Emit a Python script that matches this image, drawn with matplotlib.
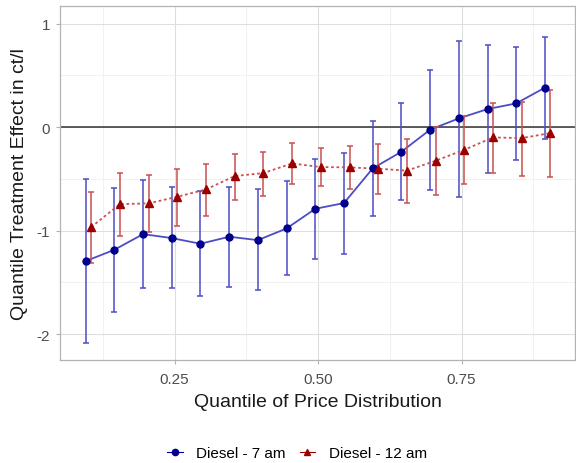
import matplotlib
matplotlib.use("Agg")
import matplotlib.pyplot as plt
from matplotlib.lines import Line2D
import numpy as np

plt.rcParams['font.family'] = ['Liberation Sans', 'DejaVu Sans']

quantiles = [0.10, 0.15, 0.20, 0.25, 0.30, 0.35, 0.40, 0.45, 0.50, 0.55,
             0.60, 0.65, 0.70, 0.75, 0.80, 0.85, 0.90]

d7_est = [-1.295, -1.185, -1.034, -1.072, -1.127, -1.059, -1.092, -0.979, -0.789, -0.734,
          -0.399, -0.238, -0.025, 0.084, 0.174, 0.229, 0.381]
d7_hi = [-0.499, -0.586, -0.508, -0.580, -0.618, -0.576, -0.602, -0.522, -0.306, -0.248,
         0.058, 0.232, 0.551, 0.831, 0.796, 0.773, 0.870]
d7_lo = [-2.083, -1.784, -1.556, -1.558, -1.636, -1.549, -1.578, -1.433, -1.272, -1.224,
         -0.856, -0.708, -0.609, -0.676, -0.447, -0.319, -0.116]

d12_est = [-0.966, -0.744, -0.737, -0.673, -0.602, -0.473, -0.444, -0.351, -0.386, -0.389,
           -0.402, -0.421, -0.325, -0.219, -0.100, -0.106, -0.058]
d12_hi = [-0.624, -0.444, -0.464, -0.406, -0.354, -0.261, -0.238, -0.157, -0.206, -0.183,
          -0.161, -0.112, -0.003, 0.110, 0.232, 0.239, 0.361]
d12_lo = [-1.310, -1.053, -1.017, -0.953, -0.863, -0.702, -0.663, -0.554, -0.573, -0.602,
          -0.643, -0.730, -0.652, -0.551, -0.447, -0.470, -0.483]

labels = ["Diesel - 7 am", "Diesel - 12 am"]

fig = plt.figure(figsize=(5.76, 4.64), dpi=100)
ax = fig.add_axes([60/576, 1-361/464, 515/576, 354/464])

dodge = 0.0048
q = np.array(quantiles)
x7 = q - dodge
x12 = q + dodge

blue_line = "#4c4cc8"
blue_pt = "#00008b"
red_line = "#cc5050"
red_pt = "#9b0000"

ax.axhline(0, color="#333333", lw=1.1, zorder=2)

e7 = np.array(d7_est)
ax.errorbar(x7, e7, yerr=[e7 - np.array(d7_lo), np.array(d7_hi) - e7], fmt='none',
            ecolor=blue_line, elinewidth=1.1, capsize=2.5, capthick=1.1, zorder=3)
ax.plot(x7, e7, color=blue_line, lw=1.3, zorder=3)
ax.plot(x7, e7, 'o', color=blue_pt, ms=5, zorder=4)

e12 = np.array(d12_est)
ax.errorbar(x12, e12, yerr=[e12 - np.array(d12_lo), np.array(d12_hi) - e12], fmt='none',
            ecolor=red_line, elinewidth=1.1, capsize=2.5, capthick=1.1, zorder=3)
ax.plot(x12, e12, color=red_line, lw=1.3, ls=(0, (1.5, 1.5)), zorder=3)
ax.plot(x12, e12, '^', color=red_pt, ms=5.5, zorder=4)

ax.set_xlim(0.0505, 0.9476)
ax.set_ylim(-2.25, 1.17)
ax.set_xticks([0.25, 0.50, 0.75])
ax.set_xticklabels(["0.25", "0.50", "0.75"])
ax.set_xticks([0.125, 0.375, 0.625, 0.875], minor=True)
ax.set_yticks([1, 0, -1, -2])
ax.set_yticklabels(["1", "0", "-1", "-2"])
ax.set_yticks([0.5, -0.5, -1.5], minor=True)

ax.grid(which='major', color="#dedede", lw=0.8)
ax.grid(which='minor', color="#efefef", lw=0.6)
ax.set_axisbelow(True)
for s in ax.spines.values():
    s.set_color("#b3b3b3")
    s.set_linewidth(0.9)
ax.tick_params(which='major', length=3, color="#b3b3b3", labelsize=11, labelcolor="#4d4d4d")
ax.tick_params(axis='x', which='major', pad=6)
ax.tick_params(axis='y', which='major', pad=4)
ax.tick_params(which='minor', length=0)

ax.set_xlabel("Quantile of Price Distribution", fontsize=14, color="#1a1a1a", labelpad=5)
ax.set_ylabel("Quantile Treatment Effect in ct/l", fontsize=14, color="#1a1a1a", labelpad=6)

handles = [
    Line2D([], [], color=blue_pt, marker='o', ms=4.5, lw=0.8),
    Line2D([], [], color=red_pt, marker='^', ms=5, lw=0.8),
]
fig.legend(handles, labels, loc='center', bbox_to_anchor=(297/576, 1-454/464), ncol=2,
           frameon=False, fontsize=11, handlelength=1.0, handletextpad=0.9, columnspacing=0.9)

fig.savefig("out.png", dpi=100)
